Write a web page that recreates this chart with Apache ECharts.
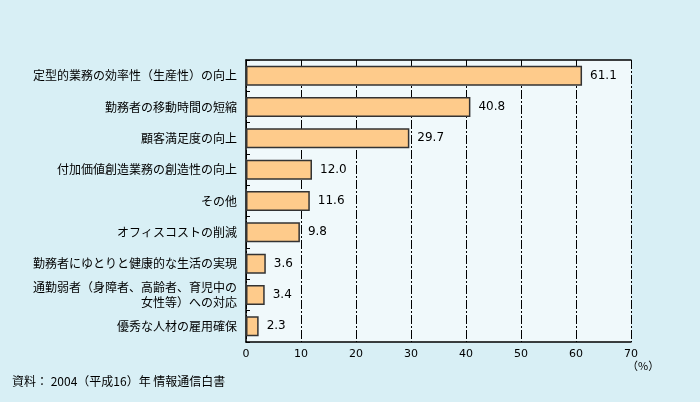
<!DOCTYPE html>
<html><head><meta charset="utf-8">
<script src="https://cdn.jsdelivr.net/npm/echarts@6/dist/echarts.min.js"></script>
<style>html,body{margin:0;padding:0;background:#d8eff5;}#c{width:700px;height:402px;}</style>
</head><body><div id="c"></div>
<script>
const categories = [
  "定型的業務の効率性（生産性）の向上",
  "勤務者の移動時間の短縮",
  "顧客満足度の向上",
  "付加価値創造業務の創造性の向上",
  "その他",
  "オフィスコストの削減",
  "勤務者にゆとりと健康的な生活の実現",
  "通勤弱者（身障者、高齢者、育児中の\n女性等）への対応",
  "優秀な人材の雇用確保"
];
const values = [61.1, 40.8, 29.7, 12.0, 11.6, 9.8, 3.6, 3.4, 2.3];
const xTicks = [0, 10, 20, 30, 40, 50, 60, 70];
const unitLabel = "（%）";
const sourceNote = "資料： 2004（平成16）年 情報通信白書";

const font = '"Noto Sans CJK JP", sans-serif';
const numFont = '"DejaVu Sans", sans-serif';
const chart = echarts.init(document.getElementById('c'));
chart.setOption({
  backgroundColor: '#d8eff5',
  animation: false,
  grid: { left: 246, right: 69, top: 60, bottom: 60, show: true, backgroundColor: '#f0f9fb', borderWidth: 0 },
  xAxis: [{
    type: 'value', min: xTicks[0], max: xTicks[xTicks.length-1], interval: 10, position: 'bottom',
    axisLine: { show: true, lineStyle: { color: '#000', width: 1.5 } },
    axisTick: { show: false },
    axisLabel: { color: '#000', fontFamily: numFont, fontSize: 11, margin: 7 },
    splitLine: { show: true, lineStyle: { color: '#000', width: 1, type: [9, 2, 2, 2] } }
  }, {
    type: 'value', min: xTicks[0], max: xTicks[xTicks.length-1], interval: 10, position: 'top',
    axisLine: { show: true, lineStyle: { color: '#000', width: 1.5 } },
    axisTick: { show: true, inside: true, length: 5, lineStyle: { color: '#000' } },
    axisLabel: { show: false },
    splitLine: { show: false }
  }],
  yAxis: {
    type: 'category', data: categories, inverse: true,
    axisLine: { show: true, lineStyle: { color: '#000', width: 1.5 } },
    axisTick: { show: true, inside: true, length: 4, lineStyle: { color: '#000' } },
    axisLabel: { color: '#000', fontFamily: font, fontSize: 12, margin: 9, lineHeight: 15, align: 'right' }
  },
  series: [{
    type: 'bar', data: values, barWidth: 20, xAxisIndex: 0,
    itemStyle: { color: '#fecb8b', borderColor: '#333', borderWidth: 1.5 },
    label: { show: true, position: 'right', distance: 8, color: '#000', fontFamily: numFont, fontSize: 12,
      formatter: p => p.value.toFixed(1) }
  }],
  graphic: [
    { type: 'text', left: 627, top: 360, style: { text: unitLabel, fill: '#000', font: '11px ' + font } },
    { type: 'text', left: 12, top: 375, style: { text: sourceNote, fill: '#000', font: '12px ' + font } }
  ]
});
</script></body></html>
